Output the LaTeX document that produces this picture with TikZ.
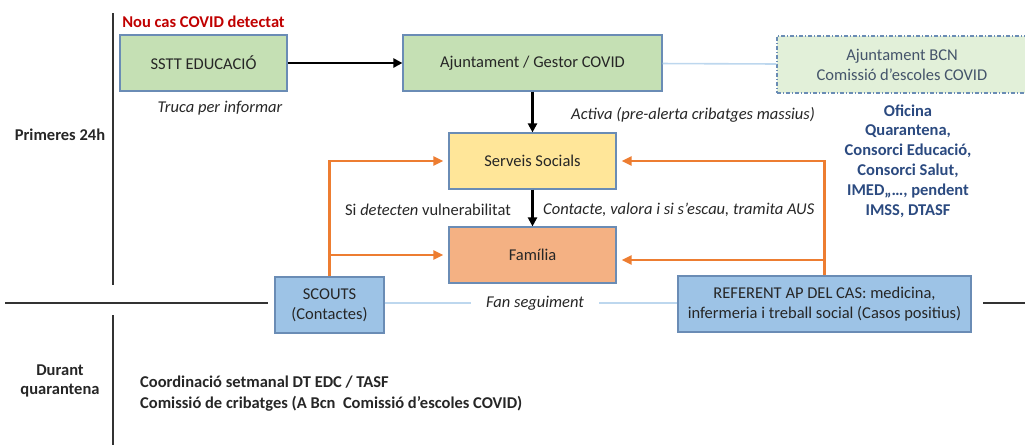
\documentclass[tikz,border=0pt]{standalone}
\usepackage{fontspec}
\setmainfont{Carlito}
\usetikzlibrary{arrows.meta}
\definecolor{bgreen}{HTML}{C5E0B4}
\definecolor{lgreen}{HTML}{E2F0D9}
\definecolor{byellow}{HTML}{FFE699}
\definecolor{borange}{HTML}{F4B183}
\definecolor{bblue}{HTML}{9DC3E6}
\definecolor{edgeblue}{HTML}{6A8CB5}
\definecolor{orgline}{HTML}{ED7D31}
\definecolor{lightline}{HTML}{BDD7EE}
\definecolor{redtxt}{HTML}{C00000}
\definecolor{slate}{HTML}{44546A}
\definecolor{navy}{HTML}{2B4A80}
\definecolor{boxtxt}{HTML}{262626}
\newcommand{\fs}{\fontsize{16.5}{20}\selectfont}
\tikzset{
  box/.style={draw=edgeblue, line width=1.2pt, inner sep=0pt, align=center, text=boxtxt,
    font=\fs},
  blk/.style={line width=2.5pt, black, -{Triangle[length=9pt,width=9pt]}},
  org/.style={line width=2.6pt, draw=orgline},
  orgarr/.style={line width=2.6pt, draw=orgline, -{Triangle[length=10pt,width=9pt]}, shorten >=5pt},
  lbl/.style={line width=1.6pt, draw=lightline},
  divider/.style={line width=2pt, draw=black!80},
  txt/.style={font=\fs, inner sep=0pt, text=boxtxt},
}
\begin{document}
\begin{tikzpicture}[x=1pt,y=-1pt]
\useasboundingbox (0,0) rectangle (1025,445);
% dividers
\draw[divider] (113,13) -- (113,285);
\draw[divider] (113,315) -- (113,445);
\draw[divider] (5,303) -- (268,303);
\draw[divider] (983,303) -- (1025,303);
% boxes
\node[box, fill=bgreen, minimum width=167pt, minimum height=56pt] (sstt) at (203.5,63) {SSTT EDUCACIÓ};
\node[box, fill=bgreen, minimum width=259pt, minimum height=56pt] (ajun) at (532.5,63) {Ajuntament / Gestor COVID};
\node[box, fill=lgreen, text=slate, dash pattern=on 4pt off 2pt on 1pt off 2pt, minimum width=250pt, minimum height=57pt] (bcn) at (902,64.5) {Ajuntament BCN\\Comissió d’escoles COVID};
\node[box, fill=byellow, minimum width=167pt, minimum height=56pt] (serv) at (532.5,161) {Serveis Socials};
\node[box, fill=borange, minimum width=167pt, minimum height=56pt] (fam) at (532.5,255) {Família};
\node[box, fill=bblue, minimum width=109pt, minimum height=56pt] (scouts) at (329.5,305) {SCOUTS\\(Contactes)};
\node[box, fill=bblue, minimum width=293pt, minimum height=56pt] (ref) at (824.5,304) {REFERENT AP DEL CAS: medicina,\\infermeria i treball social (Casos positius)};
% texts
\node[txt, font=\fs\bfseries, text=redtxt] (nou) at (203.5,22) {Nou cas COVID detectat};
\node[txt, font=\fs\itshape] (truca) at (220,108) {Truca per informar};
\node[txt, font=\fs\itshape, anchor=west] (activa) at (571,115) {Activa (pre-alerta cribatges massius)};
\node[txt, font=\fontsize{16.5}{19.8}\selectfont\bfseries, text=navy, align=center] (ofi) at (908,161) {Oficina\\Quarantena,\\Consorci Educació,\\Consorci Salut,\\IMED,,…, pendent\\IMSS, DTASF};
\node[txt, anchor=east] (sidet) at (511,210) {Si \textit{detecten} vulnerabilitat};
\node[txt, font=\fs\itshape, anchor=west] (cont) at (543,210) {Contacte, valora i si s’escau, tramita AUS};
\node[txt, font=\fs\bfseries] (prim) at (60,135) {Primeres 24h};
\node[txt, font=\fontsize{16.5}{19}\selectfont\bfseries, align=center] (dur) at (60,381) {Durant\\quarantena};
\node[txt, font=\fs\bfseries, anchor=west] (coord) at (140,382) {Coordinació setmanal DT EDC / TASF};
\node[txt, font=\fs\bfseries, anchor=west] (comi) at (140,404) {Comissió de cribatges (A Bcn\ \ Comissió d’escoles COVID)};
\node[txt, font=\fs\itshape, inner xsep=15pt] (fan) at (535,303) {Fan seguiment};
% connectors
\draw[blk] (sstt) -- (ajun);
\draw[blk] (ajun) -- (serv);
\draw[blk] (serv) -- (fam);
\draw[lbl] (ajun) -- (bcn);
\draw[lbl] (scouts.east |- fan.west) -- (fan.west);
\draw[lbl] (fan.east) -- (ref.west |- fan.east);
% orange left
\coordinate (lt) at (scouts.north |- serv.west);
\coordinate (lb) at (scouts.north |- fam.west);
\draw[org] (scouts.north) -- ([yshift=-1.3pt]lt);
\draw[orgarr] ([xshift=-1.3pt]lt) -- (serv.west);
\draw[orgarr] (lb) -- (fam.west);
% orange right
\coordinate (rt) at (ref.north |- serv.east);
\coordinate (rb) at ([yshift=-5pt]ref.north |- fam.east);
\draw[org] (ref.north) -- ([yshift=-1.3pt]rt);
\draw[orgarr] ([xshift=1.3pt]rt) -- (serv.east);
\draw[orgarr] (rb) -- ([yshift=-5pt]fam.east);
\end{tikzpicture}
\end{document}
